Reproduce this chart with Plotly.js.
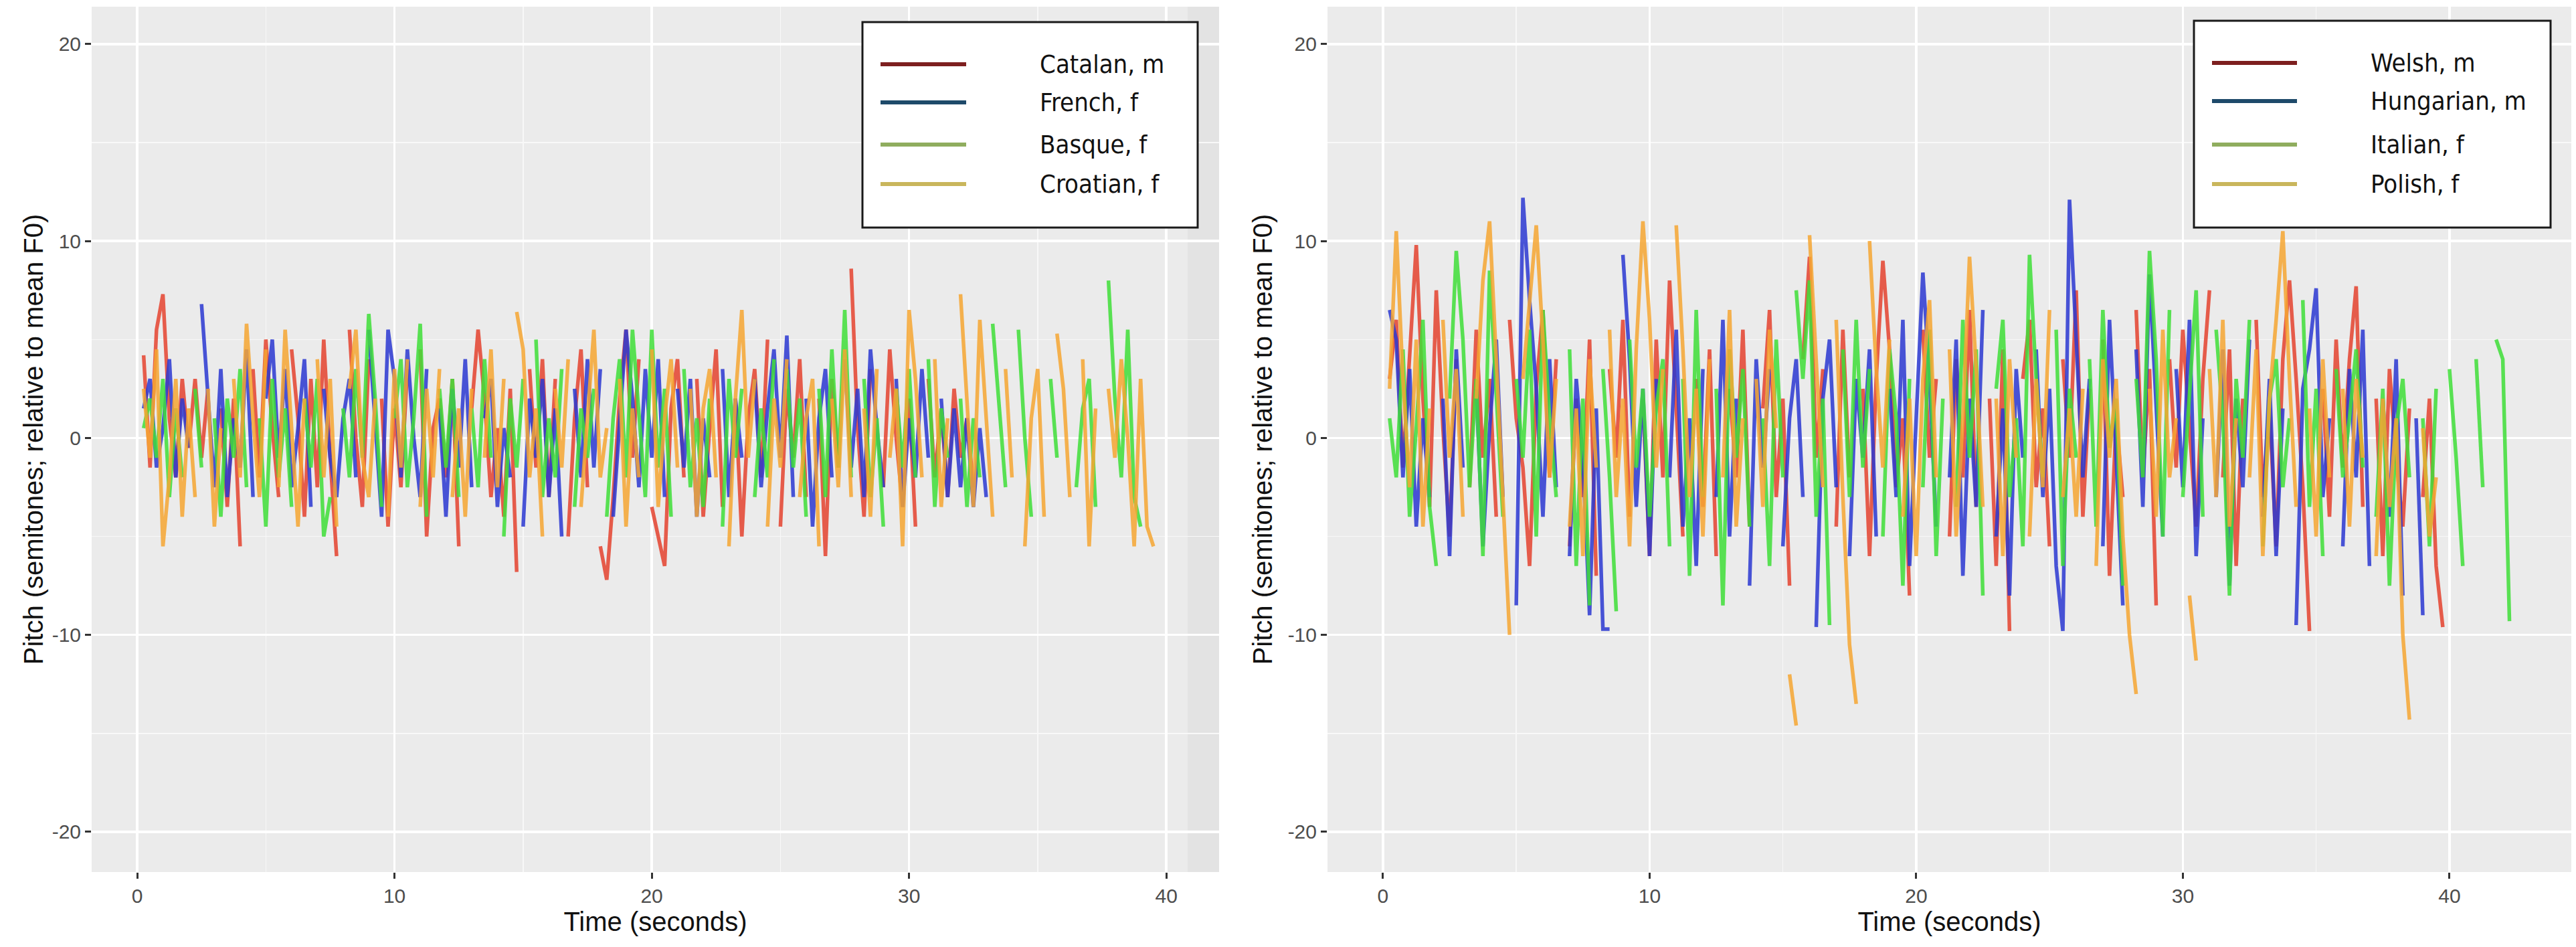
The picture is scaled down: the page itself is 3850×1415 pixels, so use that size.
<!DOCTYPE html>
<html>
<head>
<meta charset="utf-8">
<script src="https://cdn.plot.ly/plotly-3.0.1.min.js"></script>
<style>
  html, body { margin: 0; padding: 0; background: #ffffff; }
  #pitch { width: 3850px; height: 1415px; }
</style>
</head>
<body>
<div id="pitch"></div>
<script>
// time axis (seconds), shared by both panels
var timeSec = [0.25,0.5,0.75,1,1.25,1.5,1.75,2,2.25,2.5,2.75,3,3.25,3.5,3.75,4,
  4.25,4.5,4.75,5,5.25,5.5,5.75,6,6.25,6.5,6.75,7,7.25,7.5,7.75,8,
  8.25,8.5,8.75,9,9.25,9.5,9.75,10,10.25,10.5,10.75,11,11.25,11.5,11.75,12,
  12.25,12.5,12.75,13,13.25,13.5,13.75,14,14.25,14.5,14.75,15,15.25,15.5,15.75,16,
  16.25,16.5,16.75,17,17.25,17.5,17.75,18,18.25,18.5,18.75,19,19.25,19.5,19.75,20,
  20.25,20.5,20.75,21,21.25,21.5,21.75,22,22.25,22.5,22.75,23,23.25,23.5,23.75,24,
  24.25,24.5,24.75,25,25.25,25.5,25.75,26,26.25,26.5,26.75,27,27.25,27.5,27.75,28,
  28.25,28.5,28.75,29,29.25,29.5,29.75,30,30.25,30.5,30.75,31,31.25,31.5,31.75,32,
  32.25,32.5,32.75,33,33.25,33.5,33.75,34,34.25,34.5,34.75,35,35.25,35.5,35.75,36,
  36.25,36.5,36.75,37,37.25,37.5,37.75,38,38.25,38.5,38.75,39,39.25,39.5,39.75,40,
  40.25,40.5,40.75,41,41.25,41.5,41.75,42,42.25];

// left panel, semitones relative to mean F0 (null = unvoiced gap)
var catalan = [4.2,-1.5,5.5,7.3,1.0,-2.0,3.0,-0.5,
  3.0,-1.0,2.5,null,1.5,-3.5,2.0,-5.5,
  null,3.5,-2.0,5.0,0.5,-3.0,null,4.5,
  1.0,-4.0,3.0,-2.5,5.0,-1.0,-6.0,null,
  5.5,0.0,-3.5,4.0,null,2.0,-4.5,1.5,
  -2.5,3.5,null,4.5,-5.0,0.5,2.0,-2.0,
  3.0,-5.5,null,1.5,5.5,2.0,-3.0,0.5,
  -4.0,2.5,-6.8,null,3.5,-1.5,4.0,-3.0,
  3.0,null,-5.0,1.0,4.5,-2.5,null,-5.5,
  -7.2,-3.0,2.0,5.5,-1.0,4.0,null,-3.5,
  -5.0,-6.5,1.5,4.0,-2.0,null,3.0,-4.0,
  0.5,4.5,-3.5,null,2.0,-5.0,1.0,3.5,
  -2.0,5.0,null,-4.5,2.5,-1.0,4.0,-3.0,
  null,2.0,-6.0,3.0,-1.5,null,8.6,0.5,
  -4.0,3.5,null,-2.5,4.5,0.0,-3.5,2.0,
  -4.5,null,3.0,-2.0,1.5,-3.0,2.5,-1.0,
  1.0,-2.5];
var french = [1.5,3.0,-1.5,0.5,4.0,-2.0,2.0,-0.5,
  null,6.8,2.0,-2.5,3.5,-3.0,1.0,-1.5,
  4.5,-3.0,null,2.0,5.0,-1.0,3.5,-2.5,
  0.5,4.0,-3.5,null,2.5,-1.0,-3.0,1.0,
  3.0,-2.0,null,5.5,1.0,-4.0,5.5,3.0,
  -2.0,4.5,0.0,-3.0,3.5,null,1.5,-4.0,
  2.5,-1.5,4.0,-2.5,null,1.0,3.0,-3.5,
  0.5,-2.0,null,-4.5,2.0,-1.0,3.0,-3.0,
  1.5,-5.0,null,2.5,-2.0,4.0,-1.5,3.5,
  null,-4.0,1.0,5.5,2.0,-2.5,3.5,-1.0,
  4.0,-3.0,null,2.5,-1.5,3.0,-4.0,1.0,
  -2.0,null,3.5,-3.0,2.0,-1.0,null,3.0,
  -2.5,1.5,4.5,-1.0,5.2,-3.0,null,2.0,
  -4.5,1.0,3.5,-2.0,null,4.0,-1.5,2.5,
  -3.0,4.5,0.5,-2.5,null,3.0,-3.5,1.0,
  -2.0,3.5,-1.0,null,2.0,-3.0,1.5,-2.5,
  1.0,-3.5,0.5,-3.0];
var basque = [0.5,2.0,-1.0,3.0,-3.0,1.5,-2.0,null,
  2.5,-1.5,null,1.0,-4.0,2.0,-1.0,3.5,
  -2.5,null,1.0,-4.5,3.0,-2.0,1.5,-3.5,
  null,2.0,-1.5,3.0,-5.0,-3.0,null,1.5,
  -2.0,3.5,-1.0,6.3,2.0,-3.5,null,1.0,
  4.0,-2.5,1.0,5.8,-4.0,null,2.5,-1.5,
  3.0,-3.0,null,1.5,-2.5,4.0,-1.0,null,
  -5.0,2.0,-1.5,3.0,null,5.0,-3.0,1.0,
  -2.0,3.5,null,-3.5,1.5,-1.0,2.5,null,
  -4.0,1.0,4.0,-2.0,5.5,1.0,-3.0,5.5,
  -1.5,2.5,-4.0,null,3.5,-2.5,1.0,-3.5,
  2.0,null,-4.5,3.0,-1.0,2.5,null,-3.0,
  1.5,-2.0,4.0,null,3.5,-1.5,2.0,-4.0,
  null,2.5,-3.0,4.5,-1.5,6.5,-2.0,null,
  3.0,-3.0,1.0,-4.5,null,2.5,-1.5,3.5,
  -2.0,null,4.0,-3.5,1.5,-1.0,null,2.0,
  -3.5,1.0,-2.0,null,5.8,1.5,-2.5,null,
  5.5,0.0,-4.0,null,null,3.0,-1.0,null,
  null,-2.5,1.5,3.0,-3.5,null,8.0,2.0,
  -2.0,5.5,-3.0,-4.5];
var croatian = [2.5,-1.0,4.5,-5.5,-2.0,3.0,-4.0,1.5,
  -3.0,null,2.5,-4.5,0.5,null,3.0,-2.0,
  5.8,1.0,-3.0,4.5,null,-2.5,5.5,0.5,
  -4.5,2.0,null,4.0,-2.0,3.0,-4.5,null,
  2.5,5.5,-1.0,-3.0,2.0,null,-4.0,3.5,
  -1.5,4.0,null,-3.5,2.5,-2.0,3.5,null,
  -3.0,1.5,-4.0,2.5,null,-1.0,4.5,-2.5,
  3.0,null,6.4,4.5,-2.0,1.5,-5.0,null,
  2.5,-1.5,4.0,null,-3.5,1.0,5.5,-2.0,
  0.5,null,3.0,-4.5,1.5,-2.0,null,4.5,
  -3.5,1.0,4.0,-1.5,null,2.5,-4.0,1.5,
  3.5,-2.0,null,-5.5,2.0,6.5,-1.0,3.0,
  null,-4.5,2.0,-1.5,4.0,null,-3.0,1.0,
  3.0,-5.5,null,2.0,-2.5,4.5,-3.0,null,
  1.5,-4.0,3.5,null,-1.0,2.5,-5.5,6.5,
  3.0,-2.0,null,4.0,-3.5,1.0,null,7.3,
  2.0,-3.5,6.0,1.0,-4.0,null,3.5,-2.0,
  null,-5.5,1.0,3.5,-4.0,null,5.3,2.5,
  -3.0,null,4.0,-5.5,1.5,null,2.5,-1.0,
  4.0,0.0,-5.5,3.0,-4.5,-5.5];

// right panel
var welsh = [3.0,6.0,-1.5,4.5,9.8,2.0,-3.5,7.5,
  0.5,-5.0,4.0,null,-2.5,5.5,-1.0,3.0,
  -4.0,null,6.0,1.0,-1.5,-6.5,2.5,6.5,
  -2.0,4.0,null,-5.5,2.0,-3.0,5.0,-7.0,
  null,3.5,-1.0,6.0,-4.0,null,2.0,-6.0,
  5.0,-2.0,8.0,1.5,-5.0,null,3.0,-3.5,
  4.5,-6.0,null,2.5,-2.0,5.5,-4.5,null,
  1.5,6.5,-3.0,2.0,-7.5,null,4.0,9.2,
  -1.0,3.5,null,-4.5,5.5,-2.0,null,2.5,
  -6.0,3.0,9.0,4.5,-2.5,1.0,-8.0,null,
  5.5,-1.0,3.0,null,-5.0,4.0,-2.0,6.5,
  -3.5,null,2.0,-6.5,4.5,-9.8,null,3.0,
  6.0,-2.5,1.5,-5.5,null,4.0,-1.0,7.5,
  -4.0,2.5,null,5.0,-7.0,1.0,-3.0,null,
  6.5,-2.0,3.5,-8.5,null,4.0,-1.5,5.5,
  0.5,-4.5,3.0,7.5,null,-2.0,4.5,-6.5,
  2.0,null,6.0,-3.0,1.5,-5.5,4.0,8.0,
  3.0,-2.5,-9.8,null,2.5,-4.0,5.0,-1.5,
  4.0,7.7,-3.5,null,2.0,-6.0,3.5,-1.0,
  -4.5,1.5,null,-3.0,2.0,-6.5,-9.6];
var hungarian = [6.5,5.0,-2.0,3.5,-4.5,1.0,-3.0,null,
  2.0,-6.0,4.5,-1.5,null,2.5,-5.5,0.5,
  5.0,-3.0,null,-8.5,12.2,7.0,2.5,-4.0,
  4.0,-2.5,null,-6.0,3.0,-1.0,-9.0,1.5,
  -9.7,-9.7,null,9.3,4.0,-3.5,2.5,-6.0,
  3.0,null,-2.0,5.5,-4.5,1.0,-6.5,3.5,
  null,-3.0,6.0,-5.0,2.0,null,-7.5,4.0,
  -1.5,3.5,null,-5.5,1.0,4.0,-3.0,null,
  -9.6,2.0,5.0,-2.5,null,-6.0,3.0,-1.0,
  4.5,-5.0,null,2.5,-3.0,6.0,-6.5,1.0,
  8.4,3.0,-4.5,null,-2.0,5.0,-7.0,2.0,
  -3.5,6.5,null,-5.0,1.5,-8.0,3.5,-1.0,
  null,4.5,-3.0,2.5,-6.5,-9.8,12.1,5.0,
  -2.0,3.0,null,-5.5,6.0,-1.0,-8.5,null,
  4.5,-3.5,8.3,2.0,-5.0,null,3.5,-2.5,
  6.0,-6.0,1.0,null,-3.0,4.5,-7.5,2.0,
  -2.5,5.0,null,-4.0,3.0,-6.0,1.5,null,
  -9.5,2.5,4.5,7.6,-3.0,1.0,null,-5.5,
  3.5,-2.0,5.5,-6.5,null,2.0,-4.0,4.0,
  -8.0,null,1.0,-9.0];
var italian = [1.0,-2.0,4.5,-4.0,0.5,6.0,-3.5,-6.5,
  null,2.0,9.5,5.0,-2.5,3.0,-6.0,8.5,
  2.0,-4.0,null,3.0,-1.0,5.5,-5.0,6.5,
  1.0,-3.0,null,4.5,-6.5,2.0,-8.5,null,
  3.5,-2.0,-8.8,null,5.0,-1.5,2.5,-4.0,
  1.5,4.0,-5.5,null,3.0,-7.0,6.5,-3.0,
  null,2.5,-8.5,4.5,-1.0,3.5,-4.5,null,
  1.0,-6.5,5.0,-2.0,null,7.5,3.0,8.0,
  -4.0,2.0,-9.5,null,4.5,-3.0,6.0,-1.5,
  3.5,null,-5.0,4.5,1.0,-7.5,3.0,null,
  -2.5,5.5,-6.0,2.0,null,-3.5,6.0,-1.0,
  4.5,-8.0,null,2.5,6.0,-3.0,1.0,-5.5,
  9.3,3.0,-2.0,null,5.5,-6.5,2.5,-1.0,
  null,4.0,-4.5,6.5,-0.5,2.0,-7.5,null,
  3.0,-2.0,9.5,4.0,-5.0,6.5,null,-3.0,
  2.5,7.5,-4.0,null,5.5,1.0,-8.0,3.0,
  -1.0,6.0,null,-5.5,2.0,4.0,-2.5,1.0,
  null,7.0,-3.5,2.5,-6.0,null,3.5,-2.0,
  1.0,4.5,-1.5,null,-4.0,2.5,-7.5,0.5,
  3.0,-2.0,null,1.0,-5.5,2.5,null,3.5,
  -1.0,-6.5,null,4.0,-2.5,null,5.0,4.0,
  -9.3];
var polish = [2.5,10.5,3.0,-2.5,5.0,-4.5,1.5,null,
  6.0,-1.0,3.5,-4.0,null,2.0,8.0,11.0,
  4.0,-3.5,-10.0,null,3.0,7.0,10.8,5.0,
  -2.0,3.0,null,-4.5,1.5,-6.0,4.0,-1.5,
  null,5.5,-3.0,2.0,-5.5,4.5,11.0,6.0,
  -1.5,3.5,null,10.8,4.5,-3.0,2.5,-5.0,
  4.0,null,-2.0,6.5,-4.5,1.0,null,3.0,
  -3.5,5.5,0.5,null,-12.0,-14.6,null,10.3,
  4.0,-2.5,null,6.0,-3.0,-10.5,-13.5,null,
  10.0,3.5,-1.5,5.0,null,-4.0,2.0,-6.0,
  3.0,7.0,-2.0,null,4.5,-5.0,1.0,9.2,
  3.5,-3.5,null,2.0,-6.0,4.0,-1.0,null,
  -5.0,3.0,-2.5,6.5,null,-3.0,1.5,-4.0,
  2.5,null,-6.5,4.0,-1.0,3.0,-5.0,-10.0,
  -13.0,null,2.5,-4.0,5.5,-2.0,1.0,null,
  -8.0,-11.3,null,3.5,-3.0,6.0,-4.5,1.0,
  null,-2.0,4.5,-6.0,2.0,6.0,10.5,3.0,
  -3.5,null,1.5,-5.0,4.0,-2.0,null,2.5,
  -4.5,3.0,-1.0,null,-6.0,2.0,-3.5,1.0,
  -10.0,-14.3,null,0.5,-5.0,-2.0];

var xTicks = [0, 10, 20, 30, 40];
var yTicks = [-20, -10, 0, 10, 20];
var yTickText = ['-20', '-10', '0', '10', '20'];

var leftLabels = ['Catalan, m', 'French, f', 'Basque, f', 'Croatian, f'];
var rightLabels = ['Welsh, m', 'Hungarian, m', 'Italian, f', 'Polish, f'];

var lineColors = ['#e5432f', '#2b38d2', '#3fdf38', '#f6a632'];
var keyColors = ['#7d1f1f', '#1e4a6a', '#8fad5e', '#c9b65c'];

var data = [];
function addSeries(values, i, xa, ya) {
    data.push({
        type: 'scatter',
        mode: 'lines',
        x: timeSec,
        y: values,
        xaxis: xa,
        yaxis: ya,
        connectgaps: false,
        opacity: 0.85,
        showlegend: false,
        hoverinfo: 'skip',
        line: { color: lineColors[i], width: 5.5 }
    });
}
[catalan, french, basque, croatian].forEach(function (s, i) { addSeries(s, i, 'x', 'y'); });
[welsh, hungarian, italian, polish].forEach(function (s, i) { addSeries(s, i, 'x2', 'y2'); });

// page pixel -> paper fraction (plot area is 137..3843 x 10..1303)
function px(x) { return (x - 137) / 3706; }
function py(y) { return (1303 - y) / 1293; }

var shapes = [];
var annotations = [];

// darker strip at right edge of left panel (scan shading)
shapes.push({
    type: 'rect', xref: 'paper', yref: 'paper', layer: 'below',
    x0: px(1775), x1: px(1822), y0: py(1303), y1: py(10),
    fillcolor: '#e3e3e3', line: { width: 0 }
});

function addKey(box, lx0, lx1, tx, rows, labels) {
    shapes.push({
        type: 'rect', xref: 'paper', yref: 'paper',
        x0: px(box[0]), y0: py(box[1]), x1: px(box[2]), y1: py(box[3]),
        fillcolor: '#ffffff', line: { color: '#1a1a1a', width: 3 }
    });
    for (var i = 0; i < labels.length; i++) {
        shapes.push({
            type: 'line', xref: 'paper', yref: 'paper',
            x0: px(lx0), x1: px(lx1), y0: py(rows[i]), y1: py(rows[i]),
            line: { color: keyColors[i], width: 6 }
        });
        annotations.push({
            xref: 'paper', yref: 'paper', x: px(tx), y: py(rows[i]),
            xanchor: 'left', yanchor: 'middle', showarrow: false,
            text: labels[i],
            font: { family: 'Liberation Sans Narrow, DejaVu Sans Condensed, Arial Narrow, sans-serif', size: 38, color: '#111111' }
        });
    }
}
addKey([1289, 33, 1790, 340], 1316, 1444, 1552, [96, 153, 216, 275], leftLabels);
addKey([3279, 31, 3812, 340], 3306, 3433, 3541, [94, 151, 216, 275], rightLabels);

var tickFont = { family: 'Liberation Sans, Arial, sans-serif', size: 30, color: '#4d4d4d' };
var titleFont = { family: 'Liberation Sans, Arial, sans-serif', size: 40, color: '#111111' };

function xAxis(domain, range, anchor) {
    return {
        domain: domain, range: range, anchor: anchor,
        tickvals: xTicks, ticks: 'outside', ticklen: 9, tickwidth: 3, tickcolor: '#333333',
        tickfont: tickFont,
        showgrid: true, gridcolor: '#ffffff', gridwidth: 3.5,
        minor: { dtick: 5, tick0: 0, showgrid: true, gridcolor: '#f8f8f8', gridwidth: 1.5, ticks: '' },
        zeroline: false, showline: false, automargin: false,
        title: { text: 'Time (seconds)', font: titleFont, standoff: 8 }
    };
}
function yAxis(anchor, standoff) {
    return {
        domain: [0, 1], range: [-22.04, 21.9], anchor: anchor,
        tickvals: yTicks, ticktext: yTickText, ticks: 'outside', ticklen: 9, tickwidth: 3, tickcolor: '#333333',
        tickfont: tickFont,
        showgrid: true, gridcolor: '#ffffff', gridwidth: 3.5,
        minor: { dtick: 5, tick0: 0, showgrid: true, gridcolor: '#f8f8f8', gridwidth: 1.5, ticks: '' },
        zeroline: false, showline: false, automargin: false,
        title: { text: 'Pitch (semitones; relative to mean F0)', font: titleFont, standoff: standoff }
    };
}

var layout = {
    width: 3850,
    height: 1415,
    margin: { l: 137, r: 7, t: 10, b: 112 },
    paper_bgcolor: '#ffffff',
    plot_bgcolor: '#ebebeb',
    showlegend: false,
    xaxis: xAxis([0, 0.45467], [-1.77, 42.05], 'y'),
    yaxis: yAxis('x', 0),
    xaxis2: xAxis([0.49838, 1], [-2.08, 44.57], 'y2'),
    yaxis2: yAxis('x2', 10),
    shapes: shapes,
    annotations: annotations
};

Plotly.newPlot('pitch', data, layout, { staticPlot: true, displayModeBar: false });
</script>
</body>
</html>
